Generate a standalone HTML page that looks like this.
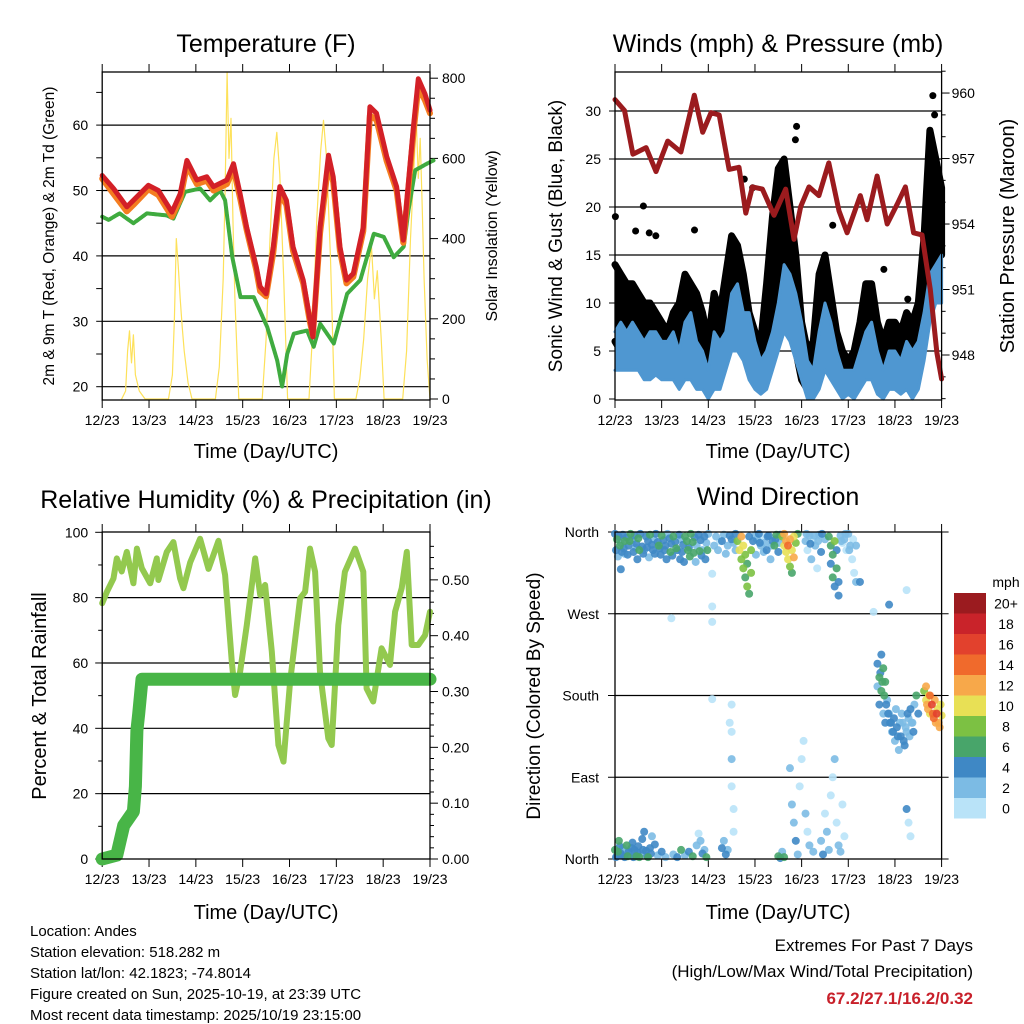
<!DOCTYPE html>
<html><head><meta charset="utf-8"><style>
body{margin:0;background:#fff;width:1024px;height:1024px;overflow:hidden}
svg{display:block;font-family:"Liberation Sans",sans-serif}
</style></head><body>
<svg id="chart" width="1024" height="1024" viewBox="0 0 1024 1024" xmlns="http://www.w3.org/2000/svg">
<rect width="1024" height="1024" fill="#fff"/>
<g id="g1"></g>
<g id="g2"></g>
<g id="g3"></g>
<g id="g4"></g>
<g id="frames"></g>
<text x="266" y="52" font-size="25" text-anchor="middle">Temperature (F)</text>
<text x="778" y="52" font-size="25" text-anchor="middle">Winds (mph) &amp; Pressure (mb)</text>
<text x="266" y="508" font-size="25" text-anchor="middle">Relative Humidity (%) &amp; Precipitation (in)</text>
<text x="778" y="505" font-size="25" text-anchor="middle">Wind Direction</text>
<text x="266" y="458" font-size="20" text-anchor="middle">Time (Day/UTC)</text>
<text x="778" y="458" font-size="20" text-anchor="middle">Time (Day/UTC)</text>
<text x="266" y="919" font-size="20" text-anchor="middle">Time (Day/UTC)</text>
<text x="778" y="919" font-size="20" text-anchor="middle">Time (Day/UTC)</text>
<text transform="translate(54,236) rotate(-90)" font-size="15.5" text-anchor="middle">2m &amp; 9m T (Red, Orange) &amp; 2m Td (Green)</text>
<text transform="translate(497,236) rotate(-90)" font-size="16" text-anchor="middle">Solar Insolation (Yellow)</text>
<text transform="translate(562,236) rotate(-90)" font-size="19" text-anchor="middle">Sonic Wind &amp; Gust (Blue, Black)</text>
<text transform="translate(1014,236) rotate(-90)" font-size="20" text-anchor="middle">Station Pressure (Maroon)</text>
<text transform="translate(46,696) rotate(-90)" font-size="20" text-anchor="middle">Percent &amp; Total Rainfall</text>
<text transform="translate(540,696) rotate(-90)" font-size="19" text-anchor="middle">Direction (Colored By Speed)</text>
<g font-size="15">
<text x="30" y="936">Location: Andes</text>
<text x="30" y="957">Station elevation: 518.282 m</text>
<text x="30" y="978">Station lat/lon: 42.1823; -74.8014</text>
<text x="30" y="999">Figure created on Sun, 2025-10-19, at 23:39 UTC</text>
<text x="30" y="1020">Most recent data timestamp: 2025/10/19 23:15:00</text>
</g>
<text x="973" y="951" font-size="17" text-anchor="end">Extremes For Past 7 Days</text>
<text x="973" y="977" font-size="17" text-anchor="end">(High/Low/Max Wind/Total Precipitation)</text>
<text x="973" y="1004" font-size="17" font-weight="bold" fill="#c8202a" text-anchor="end">67.2/27.1/16.2/0.32</text>
<text x="1006" y="587" font-size="14" text-anchor="middle">mph</text>
<g id="cbar"></g>
</svg>
<script>
// ---------- data ----------
var dayLabels = ["12/23","13/23","14/23","15/23","16/23","17/23","18/23","19/23"];
var tHours = [0,5.8,12.6,16,23.7,28.8,35.7,40,43.4,48.5,53.6,57,63.9,67.3,70.7,74,79,80.9,84,87.7,91,94.4,97.8,103,106.5,108,111.7,116,118.4,121.8,125.2,128.7,133.8,137.2,140.6,145.8,150.9,154.3,159.5,162,165.4,168];
var tRed = [52.3,50.3,47.5,48.5,50.8,50,46.7,49.5,54.6,51.6,52.1,50.6,51.6,54.1,49.5,44.4,38.3,35.3,34.2,41.4,50.6,48.5,41.4,36.3,30.2,27.6,44.4,55.4,52.1,41.4,36.3,37.3,44.4,62.8,61.8,55.2,50.6,42.4,59.7,67.1,64.8,62.3];
var tOrange = [51.8,49.5,46.8,47.8,50.2,49.3,46.0,48.7,53.8,51.0,51.5,50.0,51.0,53.3,48.8,44.0,37.8,34.6,33.8,40.5,49.5,47.8,40.8,35.8,29.8,27.8,43.5,54.3,51.3,40.8,35.8,36.8,43.8,61.5,60.8,54.5,50.0,42.0,58.7,65.8,63.8,61.8];
var dHours = [0,3.3,8.9,16,22.9,33.1,36.5,42.5,50.2,55.3,60.4,63,66.7,70.9,77.7,84.6,89.7,92.2,94.8,98.2,105,108.4,111.8,118.7,125.5,132.3,139.2,144.3,149.4,154.5,157,160.4,166.4,169.8];
var tDew = [46.0,45.5,46.5,45,46.5,46.2,45.7,49.8,50.3,48.5,50,48.5,39.8,33.7,33.7,29.1,24,20,25,28.1,28.6,26.1,29.6,26.6,34.2,36.3,43.4,42.9,39.8,41.4,47,53.1,54.1,54.6];
var solarHours = [10,12,13,14,15,16,17,19,22, 34,36,37,38,39,40,41,42,44,46, 58,60,62,63,64,65,66,67,68,70, 82,84,86,88,89.5,91,93,95, 106,108,110,112,113.4,115,117,119, 130,132,134,136,138,139.5,141,143,144.5, 154,156,158,160,161,162,163,164,165,166.5,168];
var solarVals = [0,20,120,170,90,160,60,20,0, 0,60,200,400,330,250,180,120,40,0, 0,80,300,520,815,600,700,450,250,0, 0,150,400,600,665,560,300,0, 0,180,450,620,695,600,350,0, 0,50,150,300,380,250,320,150,0, 0,120,400,600,695,550,650,480,300,100,0];
var wHours = [0,3,6,9,12,15,18,21,24,27,30,33,36,39,42,45,48,51,54,57,60,63,66,69,72,75,78,81,84,87,90,93,96,99,102,105,108,111,114,117,120,123,126,129,132,135,138,141,144,147,150,153,156,159,162,165,168];
var sonicHi = [7,8,7,8,7,6,7,7,6,6,7,5,8,9,6,5,3,7,6,7,11,12,9,9,6,4,5,7,10,14,13,11,8,4,3,7,10,8,5,3,3,3,5,7,8,5,3,5,5,4,6,5,6,9,13,14,15];
var sonicLo = [3,3,3,3,3,2,2,2.5,2,2,2,1,2,2,1,1,0,1,1,3,5,5,4,2,1,0.5,1,3,5,7,6,4,2,0,0,1,3,2,1,0,0.5,0,1,2,2,0.5,0,1,1,0.5,1,0,1,4,8,10,10];
var gustHi = [14,13,12,12,11,10,10,9,8,7,9,10,13,12,11,9,6,11,9,13,17,16,13,9,7,6,12,19,24,25,20,15,8,5,6,13,15,11,7,5,4,5,8,12,12,8,6,8,8,7,9,8,10,17,28,25,22];
var gustLo = [6,5,5,5,5,4,4,4,3,3,4,3,4,4,3,2,1,2,2,5,7,6,5,3,2,1,3,6,9,10,8,5,2,1,2,3,5,3,2,1,1,1,2,3,3,2,1,2,2,2,2,2,3,8,12,15,15];
var gustDotH = [0.2,14.6,10.6,17.6,21,40.9,93.4,92.8,163.5,164.4,112,66.5,70.8,138.3,150.6];
var gustDotV = [19,20.1,17.5,17.3,17,17.6,28.4,27,31.6,29.6,18.1,22.9,22,13.5,10.4];
var pHours = [0,4.9,9.2,16,21.1,27.1,33.9,40.8,45.1,49.4,53.6,58.7,63.8,67.3,70.7,75.8,81.8,87.8,92.1,95.5,99.8,104.9,110,115.2,119.4,126.2,129.7,134.8,140,145.1,149.4,153.6,157.9,162.2,165.6,168];
var pVals = [959.7,959.2,957.2,957.5,956.4,957.8,957.3,959.9,958.2,959.1,959,956.5,956.6,954.5,955.7,955.6,954.4,955.6,953.3,954.8,955.7,955.3,956.8,954.6,953.6,955.3,954.2,956.2,954,954.9,955.7,953.6,953.5,951,948.1,946.9];
var rhHours = [0,2.4,5.8,7.5,10,12.6,16,17.8,20.3,24.6,28,28.8,33.1,36.5,39.9,41.6,45.1,50.2,54.5,59.6,63,66.4,68.1,70.7,74.1,78.4,81,83.5,86.9,90.3,92.9,96.3,101.4,104,106.5,109.1,111.6,115.9,117.6,121,124.4,129.6,133.8,135.5,138.9,143.2,147.5,150.1,153.5,156.1,158.6,162,165.5,168];
var rhVals = [78.3,81.8,85.9,92,88,94,84.4,95,89,84.4,92,85.4,94,97,85.9,82.9,90.8,98,88.8,97.4,86.9,60.4,50.2,57.3,71.6,92,80.8,83.9,63.5,34.9,29.8,54.3,79.8,81.8,95,87.9,57.3,36.9,34.9,71.6,87.9,95,87.9,52.2,48.2,64.5,59.4,75.7,82.9,94,65.5,65.5,68.5,75.7];
var prHours = [0,7.5,11,16,17,17.8,18.7,20.4,168];
var prVals = [0,0.007,0.06,0.085,0.13,0.23,0.26,0.322,0.322];
var dirHourA = [0,1,2,3,4,5,6,7,8,9,10,11,12,13,14,15,16,17,18,19,20,21,22,23,24,25,26,27,28,29,30,31,32,33,34,35,36,37,38,39,40,41,42,43,44,45,46,47,48,5,3,50,50,50,50,29,52,54,56,58,60,62,63,64,65,65,66,66,67,67,68,68,69,69,70,70,71,72,73,74,75,76,77,78,79,80,81,82,83,84,86,87,87,88,88,89,89,90,90,91,91,92,92,93,94,98,99,100,101,102,103,104,105,106,110,111,111,112,112,113,113,114,114,115,115,116,117,118,119,120,121,122,123,124,126,141,150,133,135,135,136,136,137,137,138,138,139,139,140,141,142,143,144,145,146,147,148,149,150,151,152,153,154,155,156,159,160,160,161,162,162,163,164,165,166,167,168,0,1,2,3,4,5,6,7,8,9,10,11,12,13,14,15,16,17,18,19,30,32,34,36,38,40,42,43,44,45,46,47,55,56,57,58,60,60,60,60,61,61,59,84,85,86,87,90,91,92,93,94,95,96,97,98,99,100,102,106,107,108,109,110,111,112,113,114,115,116,117,118,150,151,152];
var dirDegA = [358,352,355,348,357,350,354,345,358,351,356,347,353,358,344,340,355,350,357,346,352,358,349,342,356,351,345,358,353,347,355,349,340,357,352,346,355,350,343,358,349,354,345,357,351,340,355,348,358,336,319,314,278,261,176,265,355,350,357,345,352,340,350,340,330,355,320,345,310,335,300,325,292,355,340,315,350,356,352,358,345,355,348,340,356,330,350,345,357,338,355,345,358,350,338,345,330,352,322,340,315,355,332,348,358,350,340,356,330,352,345,320,357,338,355,345,325,335,310,350,300,320,340,305,290,356,348,352,340,358,345,330,315,305,305,280,296,272,215,190,200,170,225,185,210,160,195,150,175,160,150,140,130,145,120,135,150,125,140,155,165,150,170,180,160,185,175,190,165,180,160,170,155,150,165,145,158,10,3,20,6,12,2,15,8,4,18,10,3,14,6,22,30,9,2,12,25,5,2,10,4,8,3,15,28,20,6,10,2,12,20,5,10,170,140,110,80,55,30,150,3,1,8,2,100,60,40,20,5,80,110,130,50,30,15,8,20,5,50,30,10,70,90,110,40,15,8,60,25,55,40,25];
var dirSpdA = [4,6,4,2,4,6,4,4,6,2,4,4,6,4,4,2,4,4,6,4,2,4,4,4,6,4,4,2,4,4,6,4,4,4,2,4,6,6,4,6,6,4,2,4,4,2,4,2,2,2,4,0,0,0,0,0,2,0,2,2,4,2,8,10,8,12,8,10,6,8,8,6,6,4,8,8,4,2,2,4,2,0,2,4,4,2,4,6,6,4,8,10,12,12,10,14,10,12,8,10,6,10,12,8,6,2,0,2,2,0,2,0,2,4,6,6,4,6,6,8,4,6,4,4,4,2,0,2,0,2,2,0,0,2,4,4,0,0,4,2,6,4,4,6,6,2,6,4,2,2,4,4,2,4,2,4,2,4,2,2,4,2,2,6,4,8,10,12,12,14,10,16,14,12,10,12,10,6,4,6,4,2,4,6,4,2,4,4,6,4,2,4,4,4,6,4,2,2,4,6,2,4,6,2,0,2,4,2,6,4,2,4,2,0,0,2,0,0,0,0,6,4,2,6,2,2,2,4,2,0,0,0,2,0,2,2,2,4,0,2,2,0,0,2,0,2,2,0,0,4,0,0];
var dirHourB = [0.5,1.5,2.5,3.5,4.5,6.5,7.5,9.5,10.5,11.5,12.5,14.5,16.5,17.5,19.5,20.5,22.5,23.5,25.5,26.5,28.5,29.5,31.5,33.5,34.5,35.5,37.5,38.5,40.5,41.5,43.5,44.5,46.5,47.5,51,53,55,57,59,61,62,72.5,74.5,76.5,78.5,80.5,82.5,84.5,85,98.5,100.5,102.5,104.5,106.5,108,116.5,118.5,120.5,122.5,124,0.5,1.5,2.5,3.5,5.5,6.5,8.5,9.5,11.5,12.5,14.5,16.5,18.5,20.5,22,24,26,136.5,137.5,138.5,139.5,140.5,141.5,142.5,143.5,144.5,145.5,146.5,147.5,148.5,149.5,150.5,151.5,152.5,153.5,160.5,161.5,163.5,164.5,165.5,166.5,167.5];
var dirDegB = [340,333,345,338,342,335,350,338,343,330,340,336,343,332,340,336,345,335,340,330,338,334,342,330,338,327,340,333,337,327,339,334,330,340,345,340,350,336,356,348,358,335,348,338,355,345,352,348,357,358,347,356,350,358,352,350,358,340,352,345,2,8,14,4,9,3,12,2,7,2,10,3,6,16,4,8,2,205,195,180,170,160,150,140,155,165,135,150,160,130,145,160,135,150,140,170,180,160,175,160,150,170];
var dirSpdB = [4,2,6,4,4,4,6,4,2,4,6,4,4,2,4,4,6,4,4,4,6,4,6,4,4,4,6,6,6,2,6,4,4,6,2,2,4,2,4,2,4,2,4,2,4,2,4,2,4,2,4,2,2,4,2,2,2,2,0,2,4,6,4,4,2,6,4,4,4,6,4,4,4,4,2,4,2,4,6,6,4,4,4,2,4,2,4,2,2,4,2,4,2,2,4,12,10,14,12,16,12,10];
var speedLabels = ["20+","18","16","14","12","10","8","6","4","2","0"];
var speedColors = ["#9b1b1f","#c9232a","#e2412d","#f06a2c","#f7a84a","#e8e055","#7cc143","#48a56a","#3f88c5","#7cbbe4","#b9e3f8"];

// ---------- helpers ----------
var NS = "http://www.w3.org/2000/svg";
function mk(parent, tag, attrs){ var e=document.createElementNS(NS,tag); for(var k in attrs) e.setAttribute(k,attrs[k]); parent.appendChild(e); return e; }
function poly(g, xs, ys, color, w, name, extra){
  var d=""; for(var i=0;i<xs.length;i++) d+=(i?"L":"M")+xs[i].toFixed(1)+","+ys[i].toFixed(1);
  var p=mk(g,"path",{d:d,fill:"none",stroke:color,"stroke-width":w,"stroke-linejoin":"round","stroke-linecap":"round"});
  if(extra) for(var k in extra) p.setAttribute(k,extra[k]);
  
  
  return p;
}
function hline(g,x1,x2,y,name){ var l=mk(g,"line",{x1:x1,x2:x2,y1:y,y2:y,stroke:"#000","stroke-width":1.2});
  
   }
function tick(g,x1,y1,x2,y2){ var l=mk(g,"line",{x1:x1,y1:y1,x2:x2,y2:y2,stroke:"#000","stroke-width":1});
  
   }
function label(g,x,y,s,anchor,name,size){ var t=mk(g,"text",{x:x,y:y,"font-size":size||14,"text-anchor":anchor}); t.textContent=s;
  
   return t; }

var L1=102.2, R1=430, L2=615, R2=941.6, T1=72, B1=400, T2=532, B2=859;
function x1(h){ return L1 + h/168*(R1-L1); }
function x2(h){ return L2 + h/168*(R2-L2); }
function yT(v){ return 386.7 - (v-20)*6.54; }
function yS(v){ return 399 - v*0.401; }
function yW(v){ return 399 - v*9.6; }
function yP(v){ return 355 - (v-948)*21.83; }
function yRH(v){ return 859 - v*3.267; }
function yPr(v){ return 859 - v*558.3; }
function yDir(v){ return 859 - v*(327/360); }

function xAxis(g, L, R, T, B){
  for(var i=0;i<dayLabels.length;i++){
    var x=L+i*(R-L)/7;
    tick(g,x,T-8,x,T); tick(g,x,B,x,B+8);
    label(g,x,B+25,dayLabels[i],"middle","x-tick-label");
  }
}

// ---------- panel 1 ----------
var g1=document.getElementById("g1");
[20,30,40,50,60].forEach(function(v){ hline(g1,L1,R1,yT(v),"temperature-gridline"); label(g1,L1-14,yT(v)+5,String(v),"end","temperature-tick-label"); });
for(var v=20; v<=65; v+=5) tick(g1,L1-6,yT(v),L1,yT(v));
for(var s=0;s<=800;s+=50){ tick(g1,R1,yS(s),R1+(s%200?5:8),yS(s)); if(s%200===0) label(g1,R1+12,yS(s)+5,String(s),"start","solar-tick-label"); }
xAxis(g1,L1,R1,T1,B1);
poly(g1, solarHours.map(x1), solarVals.map(yS), "#fde15a", 1.2, "solar-insolation-line");
poly(g1, dHours.map(x1), tDew.map(yT), "#3fab3f", 4, "dewpoint-line", {"stroke-dasharray":"3 1"});
poly(g1, tHours.map(x1), tOrange.map(yT), "#f47d20", 6, "temperature-9m-line");
poly(g1, tHours.map(x1), tRed.map(yT), "#d32027", 5, "temperature-2m-line");

// ---------- panel 2 ----------
var g2=document.getElementById("g2");
for(var v=5; v<=30; v+=5) hline(g2,L2,R2,yW(v),"wind-gridline");
for(var v=0; v<=30; v+=5){ tick(g2,L2-6,yW(v),L2,yW(v)); label(g2,L2-14,yW(v)+5,String(v),"end","wind-tick-label"); }
for(var p=946; p<=961; p++){ tick(g2,R2,yP(p),R2+(p%3?4:8),yP(p)); if(p%3===0 && p>=948 && p<=960) label(g2,R2+10,yP(p)+5,String(p),"start","pressure-tick-label"); }
xAxis(g2,L2,R2,T1,B1);
(function(){
  var xs=[],ys=[];
  for(var i=0;i<wHours.length;i++){ xs.push(x2(wHours[i])); ys.push(yW(gustHi[i])); }
  for(var i=wHours.length-1;i>=0;i--){ xs.push(x2(wHours[i])); ys.push(yW(gustLo[i])); }
  poly(g2,xs,ys,"#000",7,"gust-band",{fill:"#000"});
  gustDotH.forEach(function(h,i){ var c=mk(g2,"circle",{cx:x2(h),cy:yW(gustDotV[i]),r:3.5,fill:"#000"});
    
     });
  xs=[];ys=[];
  for(var i=0;i<wHours.length;i++){ xs.push(x2(wHours[i])); ys.push(yW(sonicHi[i])); }
  for(var i=wHours.length-1;i>=0;i--){ xs.push(x2(wHours[i])); ys.push(yW(sonicLo[i])); }
  poly(g2,xs,ys,"#4f97d1",3,"sonic-wind-band",{fill:"#4f97d1"});
})();
poly(g2, pHours.map(x2), pVals.map(yP), "#9b1b1e", 5, "pressure-line");

// ---------- panel 3 ----------
var g3=document.getElementById("g3");
[20,40,60,80].forEach(function(v){ hline(g3,L1,R1,yRH(v),"humidity-gridline"); });
for(var v=0; v<=100; v+=10) tick(g3,L1-(v%20?4:7),yRH(v),L1,yRH(v));
[0,20,40,60,80,100].forEach(function(v){ label(g3,L1-14,yRH(v)+5,String(v),"end","humidity-tick-label"); });
for(var i=0;i<=28;i++){ var pv=i*0.02; tick(g3,R1,yPr(pv),R1+(i%5?4:8),yPr(pv)); if(i%5===0) label(g3,R1+12,yPr(pv)+5,pv.toFixed(2),"start","precip-tick-label"); }
xAxis(g3,L1,R1,T2,B2);
poly(g3, rhHours.map(x1), rhVals.map(yRH), "#93c94f", 6, "humidity-line");
poly(g3, prHours.map(x1), prVals.map(yPr), "#48b547", 13, "precipitation-line");

// ---------- panel 4 ----------
var g4=document.getElementById("g4");
var dirNames=["North","East","South","West","North"];
for(var k=0;k<5;k++){ var dv=k*90; if(k>0&&k<4) hline(g4,L2,R2,yDir(dv),"direction-gridline");
  tick(g4,L2-7,yDir(dv),L2,yDir(dv)); tick(g4,R2,yDir(dv),R2+7,yDir(dv));
  label(g4,L2-16,yDir(dv)+5,dirNames[k],"end","direction-tick-label"); }
xAxis(g4,L2,R2,T2,B2);
var dirHour = dirHourA.concat(dirHourB);
var dirDeg = dirDegA.concat(dirDegB);
var dirSpd = dirSpdA.concat(dirSpdB);
function spdColor(s){ var idx=Math.min(10,Math.max(0,10-Math.floor(s/2))); return speedColors[idx]; }
var order=dirHour.map(function(_,i){return i;}).sort(function(a,b){return dirSpd[a]-dirSpd[b];});
order.forEach(function(i){
  var c=mk(g4,"circle",{cx:x2(dirHour[i]),cy:yDir(dirDeg[i]),r:4,fill:spdColor(dirSpd[i]),"fill-opacity":0.9});
  
  
});

// ---------- colorbar ----------
var cb=document.getElementById("cbar");
for(var i=0;i<speedLabels.length;i++){
  var y=593+i*20.5;
  var r=mk(cb,"rect",{x:954,y:y,width:32,height:20.5,fill:speedColors[i]});
  
  
  label(cb,1006,y+15.5,speedLabels[i],"middle","colorbar-label");
}

// ---------- frames ----------
var fr=document.getElementById("frames");
[[L1,T1,R1,B1],[L2,T1,R2,B1],[L1,T2,R1,B2],[L2,T2,R2,B2]].forEach(function(b){
  var r=mk(fr,"rect",{x:b[0],y:b[1],width:b[2]-b[0],height:b[3]-b[1],fill:"none",stroke:"#000","stroke-width":1.3});
  
  
});
</script>
</body></html>
